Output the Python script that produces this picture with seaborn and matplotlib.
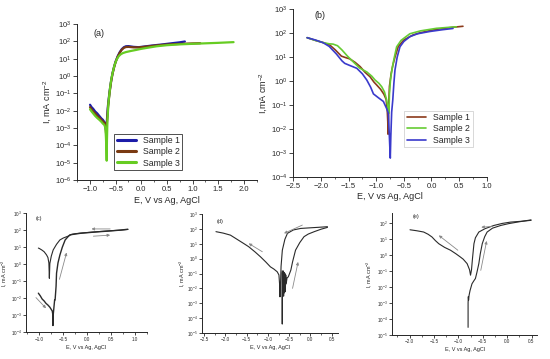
import pandas as pd
import seaborn as sns
import matplotlib.pyplot as plt
from matplotlib.ticker import LogLocator, NullLocator, MultipleLocator, FuncFormatter

# ---- panel (a): forward polarisation, three samples ----
a_samples = ["Sample 1", "Sample 2", "Sample 3"]
a_colors = ["#1c1ca8", "#7a3a12", "#66cc22"]
a_e_s1 = [-1.00, -0.97, -0.94, -0.90, -0.86, -0.82, -0.78, -0.75, -0.72, -0.70, -0.69, -0.68, -0.67, -0.65,
          -0.62, -0.59, -0.56, -0.53, -0.50, -0.46, -0.42, -0.38, -0.34, -0.30, -0.25, -0.15, -0.05, 0.05,
          0.20, 0.40, 0.60, 0.75, 0.85]
a_i_s1 = [2.2e-2, 1.6e-2, 1.3e-2, 9e-3, 7e-3, 5e-3, 3.6e-3, 3e-3, 2.2e-3, 1.6e-3, 8e-4, 6e-4, 3e-3, 2e-2,
          0.12, 0.5, 1.5, 3.5, 7, 14, 24, 36, 46, 52, 53, 48, 46, 50, 57, 66, 78, 88, 98]
a_e_s2 = [-1.00, -0.97, -0.94, -0.90, -0.86, -0.82, -0.78, -0.75, -0.72, -0.70, -0.69, -0.68, -0.67, -0.65,
          -0.62, -0.59, -0.56, -0.53, -0.50, -0.46, -0.42, -0.38, -0.34, -0.30, -0.25, -0.15, -0.05, 0.05,
          0.20, 0.40, 0.60, 0.80, 1.00, 1.15]
a_i_s2 = [1.6e-2, 1.2e-2, 9e-3, 7e-3, 5e-3, 4e-3, 3e-3, 2.4e-3, 2e-3, 1.5e-3, 6e-4, 3e-4, 2e-3, 1.5e-2,
          0.1, 0.45, 1.4, 3.2, 6.5, 13, 22, 33, 42, 47, 48, 45, 45, 48, 54, 62, 68, 72, 76, 78]
a_e_s3 = [-1.00, -0.97, -0.94, -0.90, -0.86, -0.82, -0.78, -0.75, -0.72, -0.70, -0.69, -0.68, -0.675, -0.67,
          -0.66, -0.64, -0.61, -0.58, -0.55, -0.52, -0.48, -0.44, -0.40, -0.36, -0.30, -0.20, -0.10, 0.00,
          0.15, 0.30, 0.50, 0.75, 1.00, 1.25, 1.50, 1.65, 1.80]
a_i_s3 = [1.2e-2, 9e-3, 7e-3, 5e-3, 3.8e-3, 3e-3, 2.3e-3, 1.8e-3, 1.5e-3, 1.0e-3, 3e-4, 5e-5, 1.3e-5, 2e-4,
          3e-3, 3e-2, 0.2, 0.8, 2, 4.5, 9, 14, 18, 21, 24, 28, 32, 37, 44, 52, 60, 67, 72, 77, 82, 86, 90]

# ---- panel (b): full potentiodynamic scans ----
b_samples = ["Sample 1", "Sample 2", "Sample 3"]
b_colors = ["#8b3a1a", "#66cc33", "#3a3acc"]
b_e_s1 = [-2.25, -2.10, -1.95, -1.84, -1.74, -1.63, -1.55, -1.48, -1.38, -1.29, -1.20, -1.11, -1.04, -0.99,
          -0.92, -0.86, -0.82, -0.80, -0.79, -0.785, -0.77, -0.76, -0.73, -0.70, -0.66, -0.60, -0.50, -0.40,
          -0.33, -0.20, -0.05, 0.09, 0.25, 0.40, 0.57]
b_i_s1 = [65, 50, 40, 32, 20, 11, 9.5, 8.5, 6, 4, 2.3, 1.5, 0.9, 0.68, 0.45, 0.28, 0.17, 0.06, 0.02, 6e-3,
          0.16, 0.6, 2, 4.5, 10, 28, 52, 70, 85, 105, 125, 145, 162, 178, 195]
b_e_s2 = [-2.25, -2.10, -1.95, -1.85, -1.78, -1.70, -1.62, -1.52, -1.42, -1.30, -1.17, -1.08, -1.02, -0.95,
          -0.90, -0.85, -0.81, -0.78, -0.77, -0.76, -0.74, -0.72, -0.68, -0.63, -0.55, -0.45, -0.39, -0.20,
          0.09, 0.30, 0.45]
b_i_s2 = [65, 50, 40, 36, 35, 30, 20, 11, 6.5, 3.5, 2.4, 1.6, 1.1, 0.8, 0.58, 0.35, 0.16, 0.06, 0.045, 0.3,
          1.2, 2.5, 8, 27, 50, 75, 95, 125, 160, 175, 185]
b_e_s3 = [-2.25, -2.10, -1.96, -1.85, -1.72, -1.62, -1.57, -1.48, -1.35, -1.25, -1.17, -1.10, -1.05, -0.96,
          -0.87, -0.81, -0.78, -0.76, -0.745, -0.735, -0.72, -0.70, -0.68, -0.66, -0.62, -0.57, -0.50, -0.39,
          -0.25, -0.03, 0.20, 0.39]
b_i_s3 = [65, 52, 40, 28, 13.5, 7, 5.5, 4.5, 3.4, 2, 1.1, 0.55, 0.29, 0.2, 0.14, 0.07, 0.045, 4e-3, 6e-4,
          5e-3, 0.05, 0.16, 0.8, 2.9, 10, 27, 45, 72, 95, 118, 140, 158]

# ---- panel (c): cyclic scan ----
c_e_fwd = [-1.02, -0.98, -0.94, -0.90, -0.86, -0.82, -0.78, -0.75, -0.73, -0.72, -0.715, -0.71, -0.70, -0.68,
           -0.67, -0.65, -0.64, -0.61, -0.57, -0.52, -0.46, -0.40, -0.36, -0.25, -0.15, 0.10, 0.27, 0.50,
           0.70, 0.85]
c_i_fwd = [2e-2, 1.4e-2, 9e-3, 7e-3, 5e-3, 4e-3, 3e-3, 2.2e-3, 1.8e-3, 1.2e-3, 2.5e-4, 1e-3, 2e-3, 8e-3,
           8e-3, 0.05, 0.3, 1.2, 3.5, 10, 27, 42, 54, 60, 66, 76, 83, 92, 103, 115]
c_e_rev = [0.85, 0.70, 0.50, 0.30, 0.10, -0.10, -0.25, -0.32, -0.40, -0.50, -0.57, -0.64, -0.71, -0.75,
           -0.78, -0.79, -0.80, -0.82, -0.85, -0.90, -0.95, -1.00, -1.02]
c_i_rev = [112, 102, 95, 86, 78, 70, 63, 58, 45, 35, 27, 15, 7, 3, 1.1, 0.15, 1.2, 2.5, 3.6, 5.5, 7, 8.5, 9]
c_arrows = [((-1.07, 1.1e-2), (-0.86, 2.6e-3)), ((-0.58, 0.13), (-0.43, 4.9)),
            ((0.48, 120), (0.09, 120)), ((0.13, 45), (0.48, 52))]

# ---- panel (d): cyclic scan ----
d_e_rev = [0.40, 0.20, 0.00, -0.23, -0.40, -0.54, -0.60, -0.66, -0.69, -0.70, -0.715, -0.725, -0.74, -0.78,
           -0.86, -0.94, -1.05, -1.17, -1.30, -1.45, -1.57, -1.70, -1.88, -2.05, -2.22]
d_i_rev = [140, 128, 118, 107, 85, 50, 20, 3.7, 0.3, 0.035, 2.7e-3, 0.02, 0.08, 0.13, 0.2, 0.28, 0.6, 1.3,
           2.8, 6.3, 10.5, 18, 38, 52, 65]
d_e_fwd = [-0.665, -0.662, -0.658, -0.65, -0.64, -0.63, -0.62, -0.61, -0.60, -0.59, -0.58, -0.57, -0.55,
           -0.52, -0.49, -0.46, -0.42, -0.35, -0.25, -0.15, -0.05, 0.09, 0.25, 0.40]
d_i_fwd = [0.15, 4e-5, 0.12, 4e-3, 0.15, 3e-3, 0.12, 5e-3, 0.1, 6e-3, 0.08, 0.02, 0.05, 0.06, 0.1, 0.17,
           0.6, 3.7, 12, 30, 45, 65, 95, 126]
d_arrows = [((-1.13, 2.9), (-1.45, 10.5)), ((-0.19, 180), (-0.62, 50)), ((-0.42, 0.01), (-0.29, 0.6))]

# ---- panel (e): cyclic scan ----
e_e_rev = [0.49, 0.30, 0.07, -0.10, -0.27, -0.45, -0.58, -0.65, -0.68, -0.71, -0.73, -0.75, -0.77, -0.82,
           -0.90, -0.96, -1.05, -1.16, -1.28, -1.40, -1.47, -1.54, -1.62, -1.71, -1.85, -1.99]
e_i_rev = [148, 130, 115, 95, 71, 45, 27.5, 12, 5.1, 0.6, 0.12, 0.055, 0.12, 0.29, 0.55, 0.76, 1.2, 2.0,
           3.0, 5.1, 8, 13.5, 20, 27.5, 33, 38]
e_e_fwd = [-0.80, -0.80, -0.795, -0.79, -0.78, -0.76, -0.72, -0.68, -0.65, -0.62, -0.58, -0.55, -0.51,
           -0.46, -0.41, -0.30, -0.13, 0.03, 0.21, 0.35, 0.49]
e_i_fwd = [3e-5, 1e-3, 2.5e-3, 1.5e-3, 3e-3, 6e-3, 0.016, 0.025, 0.034, 0.08, 0.29, 1.2, 5.1, 14, 27.5, 48,
           71, 92, 115, 135, 158]
e_arrows = [((-1.01, 2.0), (-1.40, 17)), ((-0.54, 0.11), (-0.42, 7.6)), ((-0.30, 62), (-0.53, 55))]

xlabel = "E, V vs Ag, AgCl"

sns.set_style("ticks")
plt.rcParams["font.family"] = ["Liberation Sans", "DejaVu Sans"]
plt.rcParams["mathtext.fontset"] = "custom"
plt.rcParams["mathtext.rm"] = "Liberation Sans"
plt.rcParams["mathtext.it"] = "Liberation Sans:italic"

fig = plt.figure(figsize=(5.5, 3.59), dpi=100)

# one-decimal labels with a proper minus sign (a plain hyphen vanishes at tiny sizes)
xfmt = FuncFormatter(lambda v, pos: f"{v:.1f}".replace("-", "\u2212") if abs(v) > 1e-9 else "0.0")


def style_axes(ax, xlim, ylim, xstep, fs_tick, fs_lab, ylab, label, label_pos, tl, ylab_x):
    ax.set_yscale("log")
    ax.set_xlim(*xlim)
    ax.set_ylim(*ylim)
    ax.yaxis.set_major_locator(LogLocator(base=10, numticks=20))
    ax.yaxis.set_minor_locator(NullLocator())
    ax.xaxis.set_major_locator(MultipleLocator(xstep))
    ax.xaxis.set_minor_locator(MultipleLocator(xstep / 2))
    ax.xaxis.set_major_formatter(xfmt)
    ax.tick_params(which="major", direction="out", length=tl, width=0.6, labelsize=fs_tick, pad=1.2)
    ax.tick_params(which="minor", direction="out", length=tl * 0.55, width=0.5)
    for s in ["left", "bottom"]:
        ax.spines[s].set_linewidth(0.7)
    sns.despine(ax=ax)
    ax.set_xlabel(xlabel, fontsize=fs_lab, labelpad=2)
    ax.set_ylabel(ylab, fontsize=fs_lab)
    ax.yaxis.set_label_coords(ylab_x, 0.5)
    ax.text(label_pos[0], label_pos[1], label, transform=ax.transAxes, fontsize=fs_lab,
            ha="left", va="center")


def draw(ax, e, i, color, lw, label=None):
    sns.lineplot(x=e, y=i, ax=ax, color=color, lw=lw, sort=False, estimator=None, label=label)


# (a)
ax_a = fig.add_axes([0.1404, 0.4986, 0.3262, 0.4345])
for name, col, e, i in zip(a_samples, a_colors, [a_e_s1, a_e_s2, a_e_s3], [a_i_s1, a_i_s2, a_i_s3]):
    draw(ax_a, e, i, col, 1.6, name)
style_axes(ax_a, (-1.25, 2.25), (1e-6, 1e3), 0.5, 5.5, 6.5, "I, mA cm$^{-2}$", "(a)", (0.09, 0.94), 3, -0.13)
leg = ax_a.legend(loc="lower left", bbox_to_anchor=(0.18, 0.035), fontsize=6.3, frameon=True,
                  fancybox=False, edgecolor="black", handlelength=2.2, borderpad=0.3, labelspacing=0.25)
leg.get_frame().set_linewidth(0.6)
for h in leg.get_lines():
    h.set_linewidth(2.2)

# (b)
ax_b = fig.add_axes([0.5333, 0.5078, 0.3516, 0.4663])
for name, col, e, i in zip(b_samples, b_colors, [b_e_s1, b_e_s2, b_e_s3], [b_i_s1, b_i_s2, b_i_s3]):
    draw(ax_b, e, i, col, 1.2, name)
style_axes(ax_b, (-2.5, 1.0), (1e-4, 1e3), 0.5, 5.5, 6.5, "I,mA cm$^{-2}$", "(b)", (0.11, 0.96), 3, -0.12)
leg = ax_b.legend(loc="lower left", bbox_to_anchor=(0.55, 0.15), fontsize=6.3, frameon=True,
                  fancybox=False, edgecolor="#bbbbbb", handlelength=2.2, borderpad=0.3, labelspacing=0.25)
leg.get_frame().set_linewidth(0.5)

line_col = "#2a2a2a"
arrow_col = "#8a8a8a"


def add_arrows(ax, arrows):
    for start, end in arrows:
        ax.annotate("", xy=end, xytext=start,
                    arrowprops=dict(arrowstyle="-|>", color=arrow_col, lw=0.6,
                                    mutation_scale=4, shrinkA=0, shrinkB=0))


# (c)
ax_c = fig.add_axes([0.0471, 0.0744, 0.2202, 0.3315])
draw(ax_c, c_e_fwd, c_i_fwd, line_col, 1.0)
draw(ax_c, c_e_rev, c_i_rev, line_col, 0.8)
add_arrows(ax_c, c_arrows)
style_axes(ax_c, (-1.28, 1.25), (1e-4, 1e3), 0.5, 3.3, 4, "I, mA cm$^{-2}$", "(c)", (0.08, 0.96), 2, -0.14)

# (d)
ax_d = fig.add_axes([0.3671, 0.0724, 0.2476, 0.3315])
draw(ax_d, d_e_rev, d_i_rev, line_col, 0.8)
draw(ax_d, d_e_fwd, d_i_fwd, line_col, 0.8)
add_arrows(ax_d, d_arrows)
style_axes(ax_d, (-2.55, 0.65), (1e-5, 1e3), 0.5, 3.3, 4, "I, mA cm$^{-2}$", "(d)", (0.11, 0.94), 2, -0.11)

# (e)
ax_e = fig.add_axes([0.7135, 0.0669, 0.2636, 0.3407])
draw(ax_e, e_e_rev, e_i_rev, line_col, 0.8)
draw(ax_e, e_e_fwd, e_i_fwd, line_col, 0.8)
add_arrows(ax_e, e_arrows)
style_axes(ax_e, (-2.35, 0.62), (1e-5, 10 ** 2.65), 0.5, 3.3, 4, "I, mA cm$^{-2}$", "(e)", (0.14, 0.97), 2, -0.125)

fig.savefig("out.png", dpi=100)
